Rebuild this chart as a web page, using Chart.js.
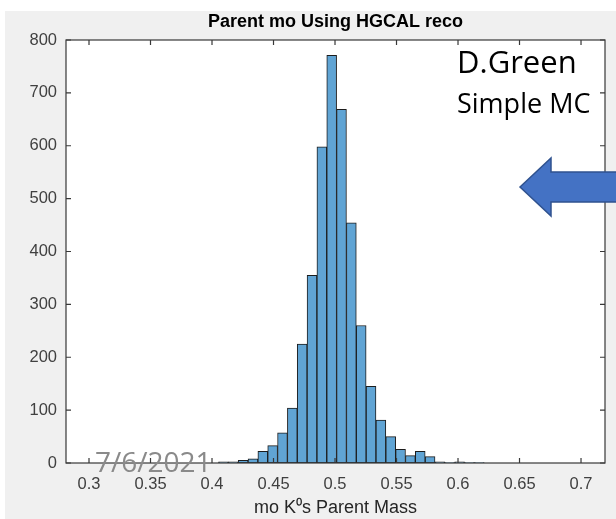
<!DOCTYPE html>
<html>
<head>
<meta charset="utf-8">
<title>Parent mo Using HGCAL reco</title>
<script src="https://cdn.jsdelivr.net/npm/chart.js@4.4.0/dist/chart.umd.min.js"></script>
<style>
  html, body { margin: 0; padding: 0; background: #fff; }
  #wrap { position: relative; width: 616px; height: 519px; }
  #chart_canvas { display: block; }
</style>
</head>
<body>
<div id="wrap"><canvas id="chart_canvas" width="616" height="519"></canvas></div>
<script>
// histogram bins (centre of each 0.008 wide bin) and counts
var binCenters = [0.4093, 0.4173, 0.4253, 0.4333, 0.4413, 0.4493, 0.4573, 0.4653, 0.4733,
                  0.4813, 0.4893, 0.4973, 0.5053, 0.5133, 0.5213, 0.5293, 0.5373, 0.5453,
                  0.5533, 0.5613, 0.5693, 0.5773, 0.5853, 0.5933, 0.6013, 0.6093, 0.6173];
var counts = [2, 2, 5, 8, 22, 33, 57, 104, 225,
              355, 598, 771, 669, 454, 260, 145, 81, 50,
              26, 14, 22, 12, 2, 1, 2, 1, 1];
var xTicks = [0.3, 0.35, 0.4, 0.45, 0.5, 0.55, 0.6, 0.65, 0.7];
var yTicks = [0, 100, 200, 300, 400, 500, 600, 700, 800];
var chartTitle = 'Parent mo Using HGCAL reco';

const axisFont = '"Liberation Sans", Arial, Helvetica, sans-serif';
const noteFont = '"Open Sans", "Noto Sans", sans-serif';

// MATLAB-ish figure: grey panel, boxed axes with inward ticks, plus slide notes
const matlabFrame = {
    id: 'matlabFrame',
    beforeDraw: function(chart) {
        const ctx = chart.ctx, a = chart.chartArea;
        ctx.save();
        ctx.fillStyle = '#ffffff';
        ctx.fillRect(0, 0, chart.width, chart.height);
        ctx.fillStyle = '#f0f0f0';
        ctx.fillRect(5, 11, chart.width - 5, chart.height - 11);
        ctx.fillStyle = '#ffffff';
        ctx.fillRect(a.left, a.top, a.right - a.left, a.bottom - a.top);
        // title centred over the axes box, like MATLAB
        ctx.fillStyle = '#000000';
        ctx.font = 'bold 18px ' + axisFont;
        ctx.textAlign = 'center';
        ctx.textBaseline = 'middle';
        ctx.fillText(chartTitle, (a.left + a.right) / 2, 22);
        ctx.restore();
    },
    afterDatasetsDraw: function(chart) {
        const ctx = chart.ctx, a = chart.chartArea;
        const xs = chart.scales.x, ys = chart.scales.y;
        const len = 5;
        ctx.save();
        ctx.strokeStyle = '#383838';
        ctx.lineWidth = 1.2;
        ctx.strokeRect(a.left, a.top, a.right - a.left, a.bottom - a.top);
        ctx.beginPath();
        xs.ticks.forEach(function(t) {
            const px = xs.getPixelForValue(t.value);
            ctx.moveTo(px, a.bottom); ctx.lineTo(px, a.bottom - len);
            ctx.moveTo(px, a.top); ctx.lineTo(px, a.top + len);
        });
        ys.ticks.forEach(function(t) {
            const py = ys.getPixelForValue(t.value);
            ctx.moveTo(a.left, py); ctx.lineTo(a.left + len, py);
            ctx.moveTo(a.right, py); ctx.lineTo(a.right - len, py);
        });
        ctx.stroke();
        ctx.restore();
    },
    afterDraw: function(chart) {
        const ctx = chart.ctx;
        ctx.save();
        ctx.textAlign = 'left';
        ctx.textBaseline = 'alphabetic';
        ctx.fillStyle = '#000000';
        ctx.font = '31px ' + noteFont;
        ctx.fillText('D.Green', 457, 73);
        ctx.font = '27px ' + noteFont;
        ctx.fillText('Simple MC', 457, 113);
        ctx.fillStyle = '#8a8a8a';
        ctx.font = '28px ' + noteFont;
        ctx.fillText('7/6/2021', 95, 472);

        // block arrow pointing left
        ctx.beginPath();
        ctx.moveTo(520, 187);
        ctx.lineTo(551, 158);
        ctx.lineTo(551, 172);
        ctx.lineTo(622, 172);
        ctx.lineTo(622, 202);
        ctx.lineTo(551, 202);
        ctx.lineTo(551, 216);
        ctx.closePath();
        ctx.fillStyle = '#4472c4';
        ctx.fill();
        ctx.strokeStyle = '#2f528f';
        ctx.lineWidth = 1.5;
        ctx.stroke();
        ctx.restore();
    }
};

var context = document.getElementById('chart_canvas');
var chartData = {
    datasets: [{
        label: 'mo',
        data: binCenters.map(function(x, i) { return {x: x, y: counts[i]}; }),
        backgroundColor: 'rgb(96,164,212)',
        borderColor: '#1c1c1c',
        borderWidth: 1,
        borderSkipped: false,
        barPercentage: 1.0,
        categoryPercentage: 1.0
    }]
};

var histChart = new Chart(context, {
    type: 'bar',
    data: chartData,
    plugins: [matlabFrame],
    options: {
        responsive: false,
        animation: false,
        layout: { padding: { top: 40, right: 11, bottom: 0, left: 0 } },
        plugins: {
            legend: { display: false },
            tooltip: { enabled: false },
            title: { display: false }
        },
        scales: {
            x: {
                type: 'linear',
                offset: false,
                min: 0.2813,
                max: 0.7195,
                grid: { display: false, drawTicks: false },
                border: { display: false },
                afterBuildTicks: function(scale) {
                    scale.ticks = xTicks.map(function(v) { return {value: v}; });
                },
                afterFit: function(scale) { scale.height = 56; },
                ticks: {
                    color: '#404040',
                    padding: 12,
                    maxRotation: 0,
                    autoSkip: false,
                    font: { family: axisFont, size: 16.5 },
                    callback: function(v) { return String(Number(v.toFixed(2))); }
                },
                title: {
                    display: true,
                    text: 'mo K⁰s Parent Mass',
                    color: '#262626',
                    font: { family: axisFont, size: 18 },
                    padding: { top: 0, bottom: 0 }
                }
            },
            y: {
                min: 0,
                max: 800,
                grid: { display: false, drawTicks: false },
                border: { display: false },
                afterBuildTicks: function(scale) {
                    scale.ticks = yTicks.map(function(v) { return {value: v}; });
                },
                afterFit: function(scale) { scale.width = 66; },
                ticks: {
                    color: '#404040',
                    padding: 9,
                    font: { family: axisFont, size: 16.5 }
                }
            }
        }
    }
});
</script>
</body>
</html>
